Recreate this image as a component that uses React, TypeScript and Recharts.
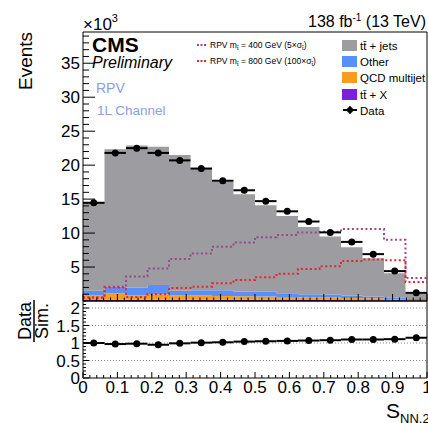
import { ComposedChart, Area, Line, Scatter, ErrorBar, XAxis, YAxis, CartesianGrid } from 'recharts';

// 16 bins of width 1/16 on S_NN,2
const BIN_LO = [0, 0.0625, 0.125, 0.1875, 0.25, 0.3125, 0.375, 0.4375, 0.5, 0.5625, 0.625, 0.6875, 0.75, 0.8125, 0.875, 0.9375];
const BIN_W = 0.0625;

// events x 10^3
const TTJETS = [13.1, 20.25, 20.9, 20.35, 20.0, 17.9, 15.9, 14.3, 12.75, 11.35, 9.9, 8.55, 7.1, 5.65, 3.6, 0.8];
const OTHER = [0.7, 1.0, 1.2, 1.35, 0.7, 0.8, 0.85, 0.7, 0.7, 0.55, 0.45, 0.45, 0.35, 0.25, 0.2, 0.15];
const QCD = [0.65, 0.9, 0.6, 0.8, 0.6, 0.6, 0.55, 0.5, 0.45, 0.45, 0.4, 0.35, 0.35, 0.3, 0.2, 0.1];
const TTX = [0.15, 0.2, 0.2, 0.2, 0.2, 0.2, 0.2, 0.2, 0.2, 0.15, 0.15, 0.15, 0.1, 0.1, 0.1, 0.05];
const SIG400 = [0.5, 2.1, 3.6, 4.8, 6.2, 7.0, 8.0, 8.6, 9.4, 9.7, 10.1, 10.2, 10.6, 10.6, 9.0, 3.4];
const SIG800 = [0.5, 2.0, 0.6, 1.0, 1.9, 2.1, 2.6, 3.1, 3.5, 4.0, 4.7, 5.1, 5.9, 6.1, 6.0, 2.8];
const DATA = [14.45, 21.8, 22.5, 21.8, 20.7, 19.5, 17.7, 16.3, 14.7, 13.2, 11.7, 10.1, 8.7, 6.9, 4.4, 1.2];
const RATIO = [1.0, 0.97, 0.98, 0.95, 0.99, 1.01, 1.02, 1.04, 1.05, 1.06, 1.07, 1.08, 1.1, 1.1, 1.11, 1.15];

const Y_MAJOR = [5, 10, 15, 20, 25, 30, 35];
const RATIO_MAJOR = [0, 0.5, 1, 1.5, 2];
const X_MAJOR = [0, 0.1, 0.2, 0.3, 0.4, 0.5, 0.6, 0.7, 0.8, 0.9, 1];

const C = { tt: '#9c9ca1', other: '#5790fc', qcd: '#f89c20', ttx: '#7a21dd', s400: '#964a8b', s800: '#e42536' };
const FONT = '"Liberation Sans", Arial, Helvetica, sans-serif';

const hist = BIN_LO.map((x, i) => ({ x, ttjets: TTJETS[i], other: OTHER[i], qcd: QCD[i], ttx: TTX[i], s400: SIG400[i], s800: SIG800[i] }));
const last = hist[hist.length - 1];
hist.push({ ...last, x: 1 });

const points = BIN_LO.map((x, i) => ({ x: x + BIN_W / 2, y: DATA[i], xerr: BIN_W / 2 }));
const ratioPts = BIN_LO.map((x, i) => ({ x: x + BIN_W / 2, y: RATIO[i], xerr: BIN_W / 2 }));

const steps = (max: number, step: number) => {
  const out: number[] = [];
  for (let i = 0; i * step <= max + 1e-9; i++) out.push(Math.round(i * step * 1000) / 1000);
  return out;
};
const isIn = (arr: number[], v: number) => arr.some((m) => Math.abs(m - v) < 1e-6);
const fmt = (v: number) => String(Math.round(v * 10) / 10);

const yTick = (majors: number[], majLen: number, minLen: number, fs: number) => (p: any) => {
  const v = p.payload.value;
  const maj = isIn(majors, v);
  return (
    <g>
      <line x1={p.x} x2={p.x + (maj ? majLen : minLen)} y1={p.y} y2={p.y} stroke="#000" />
      {maj && (
        <text x={p.x - 3} y={p.y} dy="0.36em" textAnchor="end" fontSize={fs} fontFamily={FONT} fill="#000">
          {fmt(v)}
        </text>
      )}
    </g>
  );
};

const xTick = (majLen: number, minLen: number, labels: boolean) => (p: any) => {
  const v = p.payload.value;
  const maj = isIn(X_MAJOR, v);
  return (
    <g>
      <line x1={p.x} x2={p.x} y1={p.y} y2={p.y - (maj ? majLen : minLen)} stroke="#000" />
      {labels && maj && (
        <text x={p.x} y={p.y + 15} textAnchor="middle" fontSize={17} fontFamily={FONT} fill="#000">
          {fmt(v)}
        </text>
      )}
    </g>
  );
};

const dot = (p: any) => <circle cx={p.cx} cy={p.cy} r={3.5} fill="#000" />;

export default function App() {
  return (
    <div style={{ position: 'absolute', left: 0, top: 0, width: 428, height: 423, background: '#fff', fontFamily: FONT }}>
      <div style={{ position: 'absolute', left: 0, top: 0 }}>
        <ComposedChart width={428} height={302} data={hist} margin={{ top: 31, right: 0, left: 43, bottom: 0 }}>
          <XAxis dataKey="x" type="number" domain={[0, 1]} allowDataOverflow ticks={steps(1, 0.02)} interval={0}
            height={1} tickSize={0} tickMargin={0} tickLine={false} axisLine={{ stroke: '#000' }} tick={xTick(7, 3.5, false)} />
          <XAxis xAxisId="top" orientation="top" dataKey="x" type="number" domain={[0, 1]} height={1} tick={false} tickLine={false} axisLine={{ stroke: '#000' }} />
          <YAxis type="number" domain={[0, 39.6]} allowDataOverflow ticks={steps(39, 1).filter((v) => v > 0)} interval={0}
            width={40} tickSize={0} tickMargin={0} tickLine={false} axisLine={{ stroke: '#000' }} tick={yTick(Y_MAJOR, 12, 6, 17)} />
          <YAxis yAxisId="right" orientation="right" domain={[0, 39.6]} width={1} tick={false} tickLine={false} axisLine={{ stroke: '#000' }} />
          <Area type="stepAfter" dataKey="ttx" stackId="s" fill={C.ttx} fillOpacity={1} stroke="none" isAnimationActive={false} />
          <Area type="stepAfter" dataKey="qcd" stackId="s" fill={C.qcd} fillOpacity={1} stroke="none" isAnimationActive={false} />
          <Area type="stepAfter" dataKey="other" stackId="s" fill={C.other} fillOpacity={1} stroke="none" isAnimationActive={false} />
          <Area type="stepAfter" dataKey="ttjets" stackId="s" fill={C.tt} fillOpacity={1} stroke="none" isAnimationActive={false} />
          <Line type="stepAfter" dataKey="s400" stroke={C.s400} strokeWidth={2} strokeDasharray="2 2.5" dot={false} isAnimationActive={false} />
          <Line type="stepAfter" dataKey="s800" stroke={C.s800} strokeWidth={2} strokeDasharray="2 2.5" dot={false} isAnimationActive={false} />
          <Scatter data={points} dataKey="y" shape={dot} isAnimationActive={false}>
            <ErrorBar dataKey="xerr" direction="x" width={0} stroke="#000" strokeWidth={2} />
          </Scatter>
        </ComposedChart>
      </div>
      <div style={{ position: 'absolute', left: 0, top: 300 }}>
        <ComposedChart width={428} height={123} data={ratioPts} margin={{ top: 0, right: 0, left: 43, bottom: 0 }}>
          <CartesianGrid vertical={false} horizontalValues={[0.5, 1, 1.5, 2]} stroke="#888" strokeDasharray="1 2" />
          <XAxis dataKey="x" type="number" domain={[0, 1]} allowDataOverflow ticks={steps(1, 0.02)} interval={0}
            height={45} tickSize={0} tickMargin={0} tickLine={false} axisLine={{ stroke: '#000' }} tick={xTick(6, 3, true)} />
          <XAxis xAxisId="top" orientation="top" dataKey="x" type="number" domain={[0, 1]} height={1} tick={false} tickLine={false} axisLine={{ stroke: '#000' }} />
          <YAxis type="number" domain={[0, 2.2]} allowDataOverflow ticks={steps(2.2, 0.1)} interval={0}
            width={40} tickSize={0} tickMargin={0} tickLine={false} axisLine={{ stroke: '#000' }} tick={yTick(RATIO_MAJOR, 6, 3, 17)} />
          <YAxis yAxisId="right" orientation="right" domain={[0, 2.2]} width={1} tick={false} tickLine={false} axisLine={{ stroke: '#000' }} />
          <Scatter data={ratioPts} dataKey="y" shape={dot} isAnimationActive={false}>
            <ErrorBar dataKey="xerr" direction="x" width={0} stroke="#000" strokeWidth={2} />
          </Scatter>
        </ComposedChart>
      </div>
      <svg width={428} height={423} style={{ position: 'absolute', left: 0, top: 0, pointerEvents: 'none' }} fontFamily={FONT}>
        <text x={83} y={30} fontSize={17}>×10<tspan dy={-8} fontSize={11}>3</tspan></text>
        <text x={426} y={27} fontSize={16} textAnchor="end">138 fb<tspan dy={-6} fontSize={10}>-1</tspan><tspan dy={6}> (13 TeV)</tspan></text>
        <text transform="translate(32,61) rotate(-90)" textAnchor="middle" fontSize={19}>Events</text>
        <text x={92} y={52} fontSize={21} fontWeight="bold">CMS</text>
        <text x={92} y={68} fontSize={16} fontStyle="italic">Preliminary</text>
        <text x={96} y={93} fontSize={14} fill="#8ca0db">RPV</text>
        <text x={97} y={115} fontSize={13.5} fill="#8ca0db">1L Channel</text>

        <line x1={197} x2={207} y1={45} y2={45} stroke={C.s400} strokeWidth={2} strokeDasharray="2 1.5" />
        <text x={210} y={48} fontSize={8.5}>RPV m<tspan dy={2} fontSize={6}>t̃</tspan><tspan dy={-2}> = 400 GeV (5×σ</tspan><tspan dy={2} fontSize={6}>t̃</tspan><tspan dy={-2}>)</tspan></text>
        <line x1={197} x2={207} y1={61} y2={61} stroke={C.s800} strokeWidth={2} strokeDasharray="2 1.5" />
        <text x={210} y={64} fontSize={8.5}>RPV m<tspan dy={2} fontSize={6}>t̃</tspan><tspan dy={-2}> = 800 GeV (100×σ</tspan><tspan dy={2} fontSize={6}>t̃</tspan><tspan dy={-2}>)</tspan></text>

        <rect x={342} y={40} width={15} height={11} fill={C.tt} />
        <text x={360} y={50} fontSize={11.5}>tt̄ + jets</text>
        <rect x={342} y={56} width={15} height={11} fill={C.other} />
        <text x={360} y={66} fontSize={11.5}>Other</text>
        <rect x={342} y={72} width={15} height={11} fill={C.qcd} />
        <text x={360} y={82} fontSize={11.5}>QCD multijet</text>
        <rect x={342} y={89} width={15} height={11} fill={C.ttx} />
        <text x={360} y={99} fontSize={11.5}>tt̄ + X</text>
        <line x1={343} x2={357} y1={110} y2={110} stroke="#000" strokeWidth={2} />
        <line x1={350} x2={350} y1={106} y2={114} stroke="#000" strokeWidth={1.5} />
        <circle cx={350} cy={110} r={3} fill="#000" />
        <text x={360} y={115} fontSize={11.5}>Data</text>

        <g transform="translate(34,321) rotate(-90)">
          <text x={0} y={-3} textAnchor="middle" fontSize={18}>Data</text>
          <line x1={-21} x2={21} y1={0} y2={0} stroke="#000" strokeWidth={1.5} />
          <text x={0} y={14} textAnchor="middle" fontSize={18}>Sim.</text>
        </g>

        <text x={386} y={418} fontSize={21}>S<tspan dy={5} fontSize={13}>NN,2</tspan></text>
      </svg>
    </div>
  );
}
